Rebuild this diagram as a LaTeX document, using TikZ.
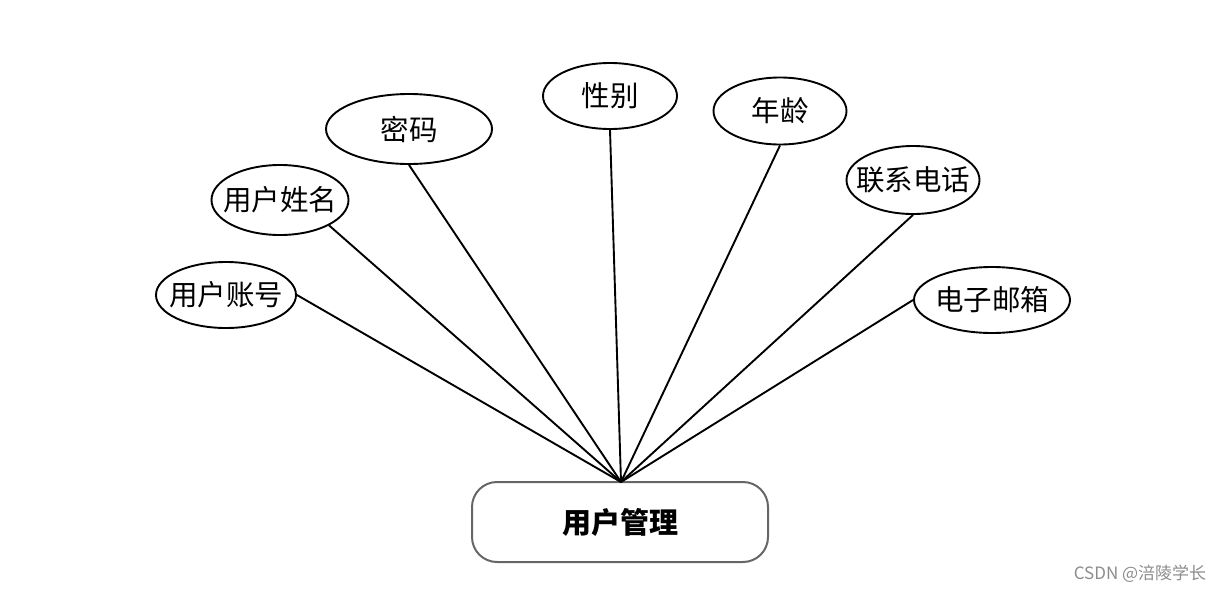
\documentclass[tikz,border=0pt]{standalone}
\usepackage{fontspec}
\setmainfont{Noto Sans CJK SC}
\newfontfamily\wmfont{Noto Sans CJK SC}
\usetikzlibrary{shapes.geometric}
\begin{document}
\begin{tikzpicture}[x=1pt,y=-1pt,
  attr/.style={draw=black,line width=1.9pt,ellipse,inner sep=-22pt,font=\fontsize{28.5}{28.5}\selectfont},
  ent/.style={draw=black!60,line width=2pt,rounded corners=25pt,minimum width=296pt,minimum height=80pt,font=\fontsize{29}{29}\selectfont\bfseries},
  link/.style={line width=1.9pt}]
\useasboundingbox (0,0) rectangle (1223,592);
\node[attr,minimum width=140pt,minimum height=66pt] (acc) at (226,295) {用户账号};
\node[attr,minimum width=137pt,minimum height=70pt] (name) at (280,200) {用户姓名};
\node[attr,minimum width=166pt,minimum height=70pt] (pwd) at (409,129) {密码};
\node[attr,minimum width=134pt,minimum height=66pt] (sex) at (610,96) {性别};
\node[attr,minimum width=133pt,minimum height=67pt] (age) at (780,111) {年龄};
\node[attr,minimum width=133pt,minimum height=68pt] (tel) at (913,180) {联系电话};
\node[attr,minimum width=156pt,minimum height=66pt] (mail) at (992,300) {电子邮箱};
\node[ent] (um) at (620,522) {用户管理};
\coordinate (hub) at (621,482);
\draw[link] (acc.east) -- (hub);
\draw[link] (name.south east) -- (hub);
\draw[link] (pwd.south) -- (hub);
\draw[link] (sex.south) -- (hub);
\draw[link] (age.south) -- (hub);
\draw[link] (tel.south) -- (hub);
\draw[link] (mail.west) -- (hub);
\node[text=black!45,font=\wmfont\fontsize{17}{17}\selectfont] (wm) at (1140,574) {CSDN @涪陵学长};
\end{tikzpicture}
\end{document}
